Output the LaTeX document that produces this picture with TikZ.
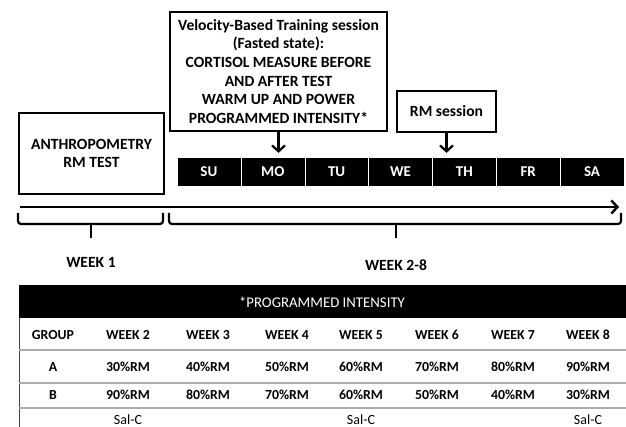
\documentclass[tikz,border=0pt]{standalone}
\usepackage{fontspec}
\setmainfont{Carlito}
\usetikzlibrary{arrows.meta}
\usetikzlibrary{positioning}

\tikzset{
  infobox/.style={draw=black,line width=1.6pt,fill=white,align=center,inner sep=0pt,
    font=\bfseries\fontsize{15.6}{18.7}\selectfont},
  daycell/.style={draw=white,very thin,fill=black,text=white,inner sep=0pt,
    minimum width=63.86pt,minimum height=29pt,font=\bfseries\fontsize{15}{16}\selectfont},
  chevron/.style={-{Straight Barb[length=6pt,width=13pt]},line width=2.2pt},
  brace/.style={line width=2.2pt,rounded corners=3pt},
  weeklabel/.style={font=\bfseries\fontsize{15.6}{17}\selectfont},
  cell/.style={font=\bfseries\fontsize{13.8}{15}\selectfont},
  plaincell/.style={font=\fontsize{14}{15}\selectfont},
  rowline/.style={draw=gray!65,line width=1.6pt},
}

\begin{document}
\begin{tikzpicture}[x=1pt,y=-1pt]
\useasboundingbox[fill=white] (0,0) rectangle (626,427);

% boxes above the week
\node[infobox,minimum width=217pt,minimum height=119pt] (vbt) at (278.5,71.5)
  {Velocity-Based Training session\\(Fasted state):\\CORTISOL MEASURE BEFORE\\AND AFTER TEST\\WARM UP AND POWER\\PROGRAMMED INTENSITY*};
\node[infobox,minimum width=145pt,minimum height=81pt] (anthro) at (91.5,153.5) {ANTHROPOMETRY\\RM TEST};
\node[infobox,minimum width=99pt,minimum height=41pt] (rm) at (446.5,111.5) {RM session};

% days
\node[daycell] (su) at (208.93,171.5) {SU};
\node[daycell] (mo) at (272.79,171.5) {MO};
\node[daycell] (tu) at (336.64,171.5) {TU};
\node[daycell] (we) at (400.5,171.5) {WE};
\node[daycell] (th) at (464.36,171.5) {TH};
\node[daycell] (fr) at (528.21,171.5) {FR};
\node[daycell] (sa) at (592.07,171.5) {SA};

\draw[chevron,shorten >=4pt] (vbt.south) -- (vbt.south |- mo.north);
\draw[chevron,shorten >=4pt] (rm.south) -- (rm.south |- th.north);

% time line
\coordinate (tstart) at (20,207);
\coordinate (tend) at (619,207);
\draw[chevron,line width=2.4pt] (tstart) -- (tend);

\draw[brace] (18,213) -- (18,224) -- (163,224) -- (163,213);
\draw[line width=2.2pt] (91,224) -- (91,238);
\draw[brace] (169,213) -- (169,224) -- (621,224) -- (621,213);
\draw[line width=2.2pt] (396,224) -- (396,238);

\node[weeklabel] (week1) at (91,262) {WEEK 1};
\node[weeklabel] (week28) at (396,265) {WEEK 2-8};

% table
\fill[black] (19,285) rectangle (626,318);
\node[plaincell,text=white,font=\fontsize{14.8}{16}\selectfont] (ptitle) at (322,302) {*PROGRAMMED INTENSITY};
\draw[black!75,line width=1pt] (19,318) -- (19,427);
\draw[rowline] (19,350) -- (626,350);
\draw[rowline] (19,383) -- (626,383);
\draw[rowline] (19,408) -- (626,408);

\node[cell] (group) at (53,335) {GROUP};
\node[cell] (ga) at (53,367) {A};
\node[cell] (gb) at (53,395) {B};
\foreach \x/\wk/\pa/\pb in {128/2/30/90,208/3/40/80,287/4/50/70,361/5/60/60,437/6/70/50,513/7/80/40,588/8/90/30}{
  \node[cell] (wk\wk) at (\x,335) {WEEK \wk};
  \node[cell] (a\wk) at (\x,367) {\pa\%RM};
  \node[cell] (b\wk) at (\x,395) {\pb\%RM};
}
\node[plaincell] (salc2) at (128,420) {Sal-C};
\node[plaincell] (salc5) at (361,420) {Sal-C};
\node[plaincell] (salc8) at (588,420) {Sal-C};

\end{tikzpicture}
\end{document}
